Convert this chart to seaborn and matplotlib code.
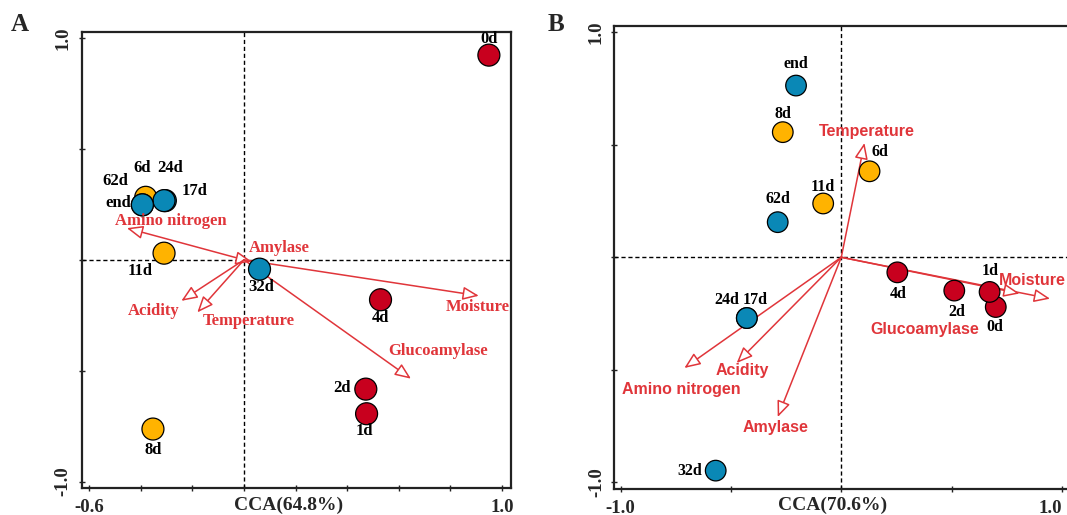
import numpy as np
import pandas as pd
import matplotlib
matplotlib.use("Agg")
import matplotlib.pyplot as plt
import seaborn as sns

# ---------------- data ----------------
samples = ["0d", "1d", "2d", "4d", "6d", "8d", "11d", "17d", "24d", "32d", "62d", "end"]
stage = ["early", "early", "early", "early", "mid", "mid", "mid",
         "late", "late", "late", "late", "late"]

# Panel A sample scores
a_x = [0.949, 0.475, 0.472, 0.529, -0.381, -0.353, -0.310, -0.305, -0.310, 0.060, -0.394, -0.394]
a_y = [0.923, -0.694, -0.583, -0.180, 0.282, -0.763, 0.030, 0.267, 0.267, -0.042, 0.248, 0.248]

# Panel B sample scores
b_x = [0.700, 0.672, 0.512, 0.254, 0.128, -0.265, -0.082, -0.428, -0.428, -0.569, -0.288, -0.205]
b_y = [-0.221, -0.154, -0.148, -0.067, 0.382, 0.556, 0.239, -0.270, -0.270, -0.948, 0.156, 0.763]

factors = ["Amino nitrogen", "Amylase", "Acidity", "Temperature", "Moisture", "Glucoamylase"]
a_fx = [-0.454, 0.030, -0.243, -0.181, 0.910, 0.647]
a_fy = [0.143, -0.008, -0.185, -0.237, -0.162, -0.536]
b_fx = [-0.711, -0.288, -0.474, 0.105, 0.946, 0.808]
b_fy = [-0.492, -0.710, -0.470, 0.508, -0.184, -0.161]

a_xlabel = "CCA(64.8%)"
b_xlabel = "CCA(70.6%)"

# ---------------- layout (label offsets in pixels) ----------------
a_lab_off = {"0d": (0, 16), "1d": (-2, -17), "2d": (-24, 1), "4d": (0, -18),
             "6d": (-4, 29), "8d": (0, -21), "11d": (-24, -18), "17d": (29, 10),
             "24d": (6, 33), "32d": (2, -18), "62d": (-27, 24), "end": (-24, 2)}
b_lab_off = {"0d": (-1, -20), "1d": (1, 21), "2d": (3, -21), "4d": (1, -22),
             "6d": (10, 19), "8d": (0, 18), "11d": (0, 16), "17d": (8, 18),
             "24d": (-20, 18), "32d": (-26, 0), "62d": (0, 23), "end": (0, 22)}
a_fac_off = {"Amino nitrogen": (44, 7), "Amylase": (28, 14), "Acidity": (-28, -10),
             "Temperature": (51, -9), "Moisture": (-1, -11), "Glucoamylase": (27, 28)}
b_fac_off = {"Amino nitrogen": (-3, -22), "Amylase": (-2, -10), "Acidity": (6, -7),
             "Temperature": (2, 11), "Moisture": (-18, 18), "Glucoamylase": (-95, -36)}

palette = {"early": "#c8001e", "mid": "#ffb300", "late": "#0a88b6"}
arrow_red = "#e0353a"

sns.set_style("white")
plt.rcParams["font.family"] = ["Liberation Serif", "DejaVu Serif"]
plt.rcParams["font.weight"] = "bold"

fig = plt.figure(figsize=(10.67, 5.15), dpi=100)
axA = fig.add_axes([0.0766, 0.0515, 0.4019, 0.8858])
axB = fig.add_axes([0.5754, 0.0499, 0.4261, 0.9002])

PX = 72.0 / 100.0  # pixels -> points


def draw_panel(ax, xs, ys, fxs, fys, xlim, ylim, xticks, yticks, lab_off, fac_off,
               fac_family, fac_size, pt_size, lab_size, xlabel, xlabel_x, ypad):
    df = pd.DataFrame({"x": xs, "y": ys, "stage": stage, "sample": samples})
    ax.axvline(0, color="black", lw=1.0, ls=(0, (3, 2)), zorder=1)
    ax.axhline(0, color="black", lw=1.0, ls=(0, (3, 2)), zorder=1)
    for name, fx, fy in zip(factors, fxs, fys):
        ax.annotate("", xy=(fx, fy), xytext=(0, 0),
                    arrowprops=dict(arrowstyle="-|>,head_length=0.65,head_width=0.27",
                                    fc="white", ec=arrow_red, lw=1.1,
                                    shrinkA=0, shrinkB=0, mutation_scale=15),
                    zorder=2)
        dx, dy = fac_off[name]
        ax.annotate(name, xy=(fx, fy), xytext=(dx * PX, dy * PX), textcoords="offset points",
                    ha="center", va="center", color=arrow_red, fontsize=fac_size,
                    fontweight="bold", family=fac_family, zorder=4)
    sns.scatterplot(data=df, x="x", y="y", hue="stage", palette=palette, s=pt_size,
                    edgecolor="black", linewidth=0.9, legend=False, ax=ax, zorder=3)
    for s, x, y in zip(samples, xs, ys):
        dx, dy = lab_off[s]
        ax.annotate(s, xy=(x, y), xytext=(dx * PX, dy * PX), textcoords="offset points",
                    ha="center", va="center", color="black", fontsize=lab_size,
                    fontweight="bold", zorder=5)
    ax.set_xlim(*xlim)
    ax.set_ylim(*ylim)
    ax.set_xticks(xticks)
    ax.set_yticks(yticks)
    ax.set_xticklabels([f"{xticks[0]:.1f}"] + [""] * (len(xticks) - 2) + [f"{xticks[-1]:.1f}"])
    ax.set_yticklabels([f"{yticks[0]:.1f}"] + [""] * (len(yticks) - 2) + [f"{yticks[-1]:.1f}"],
                       rotation=90, va="center")
    ax.tick_params(axis="both", direction="inout", length=5, width=1.0, color="#222222",
                   labelsize=13.5, bottom=True, left=True)
    ax.tick_params(axis="x", pad=5)
    ax.tick_params(axis="y", pad=ypad)
    for sp in ax.spines.values():
        sp.set_linewidth(1.6)
        sp.set_color("#222222")
        sp.set_visible(True)
    ax.set_ylabel("")
    ax.set_xlabel(xlabel, fontsize=14, fontweight="bold")
    ax.xaxis.set_label_coords(xlabel_x, -0.017)
    ax.xaxis.label.set_va("top")


draw_panel(axA, a_x, a_y, a_fx, a_fy, (-0.629, 1.033), (-1.031, 1.026),
           np.round(np.arange(-0.6, 1.01, 0.2), 1), [-1.0, -0.5, 0.0, 0.5, 1.0],
           a_lab_off, a_fac_off, ["Liberation Serif"], 12, 250, 12, a_xlabel, 0.483, 5)
draw_panel(axB, b_x, b_y, b_fx, b_fy, (-1.030, 1.030), (-1.031, 1.029),
           [-1.0, -0.5, 0.0, 0.5, 1.0], [-1.0, -0.5, 0.0, 0.5, 1.0],
           b_lab_off, b_fac_off, ["Liberation Sans"], 11.5, 220, 11.5, b_xlabel, 0.481, 4)

# keep the right-most tick label of panel B inside the canvas
axB.get_xticklabels()[-1].set_horizontalalignment("right")

fig.text(0.0187, 0.953, "A", fontsize=18, fontweight="bold", ha="center", va="center")
fig.text(0.5207, 0.952, "B", fontsize=18, fontweight="bold", ha="center", va="center")

fig.savefig("out.png", dpi=100)
